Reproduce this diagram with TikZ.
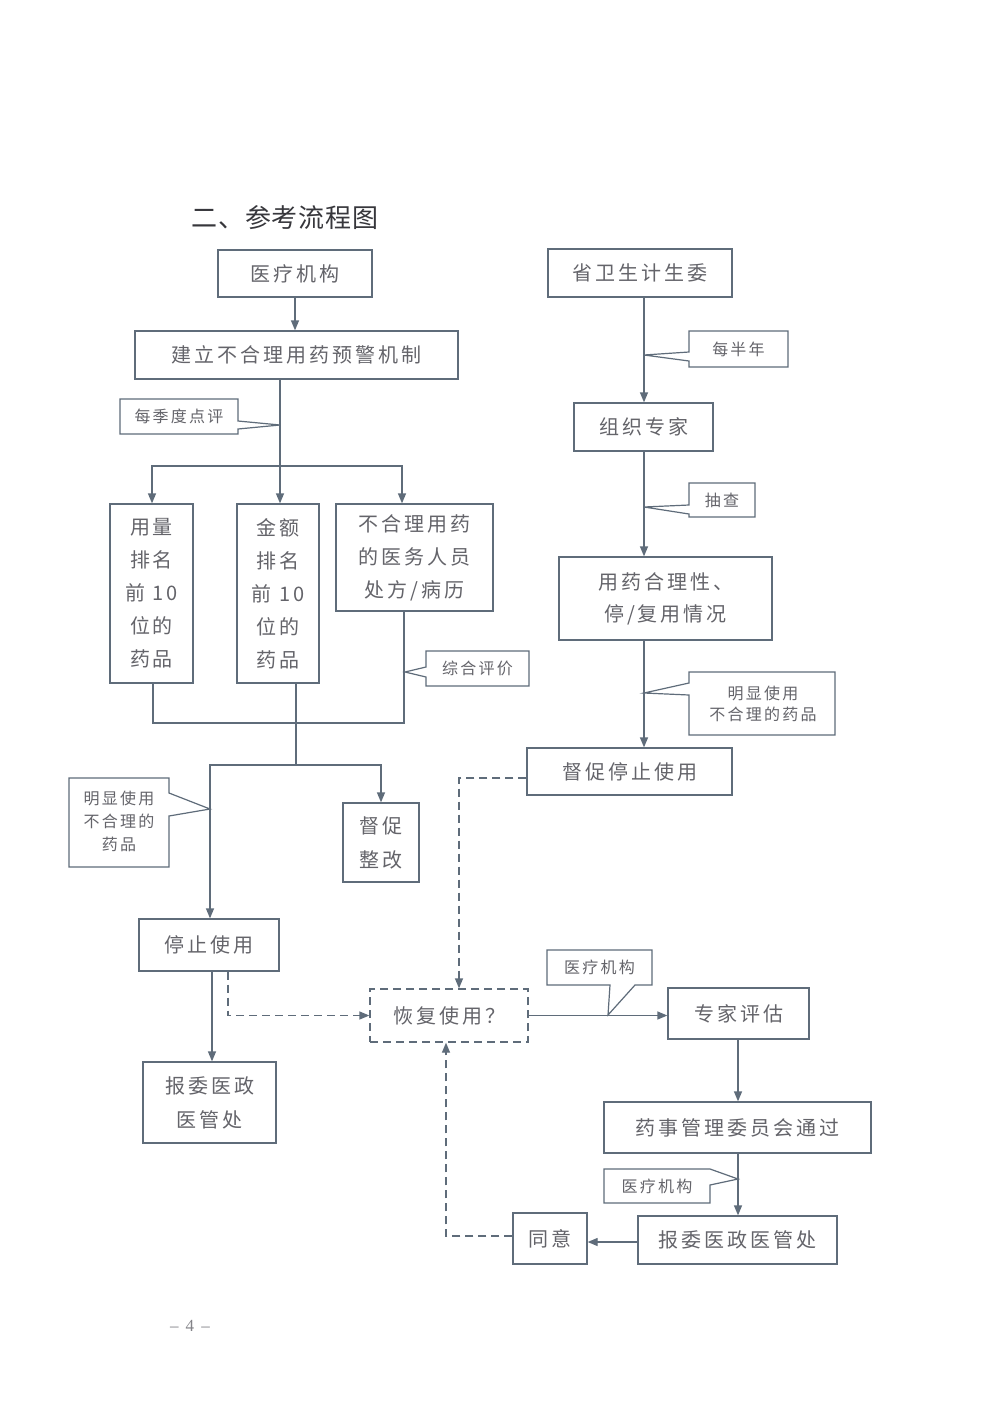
\documentclass[tikz,border=0pt]{standalone}
\usepackage{fontspec}
\setmainfont{Liberation Serif}
\newfontfamily\cjk[LetterSpace=15]{Noto Sans CJK SC}
\newfontfamily\cjks[LetterSpace=14]{Noto Sans CJK SC}
\newfontfamily\cjkt[LetterSpace=3]{Noto Sans CJK SC}
\usetikzlibrary{arrows.meta}
\definecolor{lc}{RGB}{95,108,122}
\definecolor{tc}{RGB}{100,100,106}
\definecolor{ttl}{RGB}{55,55,60}
\begin{document}
\begin{tikzpicture}[x=0.5pt,y=-0.5pt,
 box/.style={draw=lc,line width=0.65pt,inner sep=0pt,text=tc,align=center,font=\cjk\fontsize{10}{16.5}\selectfont},
 note/.style={inner sep=0pt,text=tc,align=center,font=\cjks\fontsize{8}{11.5}\selectfont},
 callout/.style={draw=lc,line width=0.6pt,line join=miter},
 link/.style={draw=lc,line width=0.65pt},
 arr/.style={link,-{Triangle[length=5pt,width=4pt]}},
 darr/.style={arr,dash pattern=on 4pt off 2.5pt},
 dbox/.style={box,dash pattern=on 4pt off 2.5pt}]
\fill[white] (0,0) rectangle (1000,1414);
\useasboundingbox (0,0) rectangle (1000,1414);

% title
\node[inner sep=0pt,text=ttl,font=\cjkt\fontsize{13}{15}\selectfont] (title) at (285,218) {二、参考流程图};

% left column
\node[box,minimum width=77pt,minimum height=23.5pt] (A) at (295,273.5) {医疗机构};
\node[box,minimum width=161.5pt,minimum height=24pt] (B) at (296.5,355) {建立不合理用药预警机制};
\node[box,minimum width=41.5pt,minimum height=89.5pt] (C1) at (151.5,593.5) {用量\\排名\\前 10\\位的\\药品};
\node[box,minimum width=41pt,minimum height=89.5pt] (C2) at (278,593.5) {金额\\排名\\前 10\\位的\\药品};
\node[box,minimum width=78.5pt,minimum height=53.5pt] (C3) at (414.5,557.5) {不合理用药\\的医务人员\\处方/病历};
\node[box,minimum width=38pt,minimum height=39.5pt,font=\cjk\fontsize{10}{17}\selectfont] (D) at (381,842.5) {督促\\整改};
\node[box,minimum width=70pt,minimum height=26pt] (E) at (209,945) {停止使用};
\node[box,minimum width=66.5pt,minimum height=40.5pt,font=\cjk\fontsize{10}{17}\selectfont] (F) at (209.5,1102.5) {报委医政\\医管处};
\node[dbox,minimum width=79pt,minimum height=26.5pt] (G) at (449,1015.5) {恢复使用？};

% right column
\node[box,minimum width=92pt,minimum height=24pt] (R1) at (640,273) {省卫生计生委};
\node[box,minimum width=69.5pt,minimum height=24pt] (R2) at (643.5,427) {组织专家};
\node[box,minimum width=106.5pt,minimum height=41.5pt,font=\cjk\fontsize{10}{16}\selectfont] (R3) at (665.5,598.5) {用药合理性、\\停/复用情况};
\node[box,minimum width=102.5pt,minimum height=23.5pt] (R4) at (629.5,771.5) {督促停止使用};
\node[box,minimum width=70.5pt,minimum height=25.5pt] (R5) at (738.5,1013.5) {专家评估};
\node[box,minimum width=133.5pt,minimum height=25.5pt] (R6) at (737.5,1127.5) {药事管理委员会通过};
\node[box,minimum width=99.5pt,minimum height=24pt] (R7) at (737.5,1240) {报委医政医管处};
\node[box,minimum width=37pt,minimum height=25.5pt] (R8) at (550,1238.5) {同意};

% callout shapes
\draw[callout] (120,399)--(238,399)--(238,421)--(280,425)--(238,429)--(238,434)--(120,434)--cycle;
\draw[callout] (426,651)--(529,651)--(529,686)--(426,686)--(426,677)--(405,672)--(426,667)--cycle;
\draw[callout] (69,778)--(169,778)--(169,793)--(210,809)--(169,816)--(169,867)--(69,867)--cycle;
\draw[callout] (547,950)--(652,950)--(652,985)--(635,985)--(608,1015)--(610,985)--(547,985)--cycle;
\draw[callout] (604,1169)--(710,1169)--(738,1179)--(710,1185)--(710,1203)--(604,1203)--cycle;
\draw[callout] (689,331)--(788,331)--(788,367)--(689,367)--(689,361)--(644,355)--(689,352)--cycle;
\draw[callout] (689,483)--(755,483)--(755,517)--(689,517)--(689,514)--(644,507)--(689,505)--cycle;
\draw[callout] (689,672)--(835,672)--(835,735)--(689,735)--(689,695)--(644,693)--(689,683)--cycle;

% callout texts
\node[note] (K1) at (179,416.5) {每季度点评};
\node[note] (K2) at (477.5,668.5) {综合评价};
\node[note] (K3) at (119,821) {明显使用\\不合理的\\药品};
\node[note] (K4) at (599.5,967.5) {医疗机构};
\node[note] (K5) at (657,1186) {医疗机构};
\node[note] (K6) at (738.5,349) {每半年};
\node[note] (K7) at (722,500) {抽查};
\node[note,font=\cjks\fontsize{8}{10.5}\selectfont] (K8) at (763,703.5) {明显使用\\不合理的药品};

% coordinates
\coordinate (vA) at (295,0);
\coordinate (J1) at (280,466);
\coordinate (JL) at (152,466);
\coordinate (JR) at (402,466);
\coordinate (m1) at (153,723);
\coordinate (m2) at (296,723);
\coordinate (m3) at (404,723);
\coordinate (m4) at (296,765);
\coordinate (h1) at (210,765);
\coordinate (h2) at (381,765);
\coordinate (vE) at (212,0);
\coordinate (d1) at (228,1016);
\coordinate (d2) at (459,778);
\coordinate (d3) at (446,1236);
\coordinate (vR) at (644,0);
\coordinate (vS) at (738,0);
\coordinate (r78) at (0,1242);

% left connectors
\draw[arr] (vA |- A.south) -- (vA |- B.north);
\draw[link] (J1 |- B.south) -- (J1);
\draw[arr] (J1) -- (JL) -- (JL |- C1.north);
\draw[arr] (J1) -- (J1 |- C2.north);
\draw[arr] (J1) -- (JR) -- (JR |- C3.north);
\draw[link] (m1 |- C1.south) -- (m1) -- (m3) -- (m3 |- C3.south);
\draw[link] (m2 |- C2.south) -- (m4);
\draw[arr] (m4) -- (h2) -- (h2 |- D.north);
\draw[arr] (m4) -- (h1) -- (h1 |- E.north);
\draw[arr] (vE |- E.south) -- (vE |- F.north);
\draw[darr] (d1 |- E.south) |- (G.west);
\draw[darr] (d2 -| R4.west) -- (d2) -- (d2 |- G.north);
\draw[darr] (d3 -| R8.west) -- (d3) -- (d3 |- G.south);
\draw[arr] (G.east) -- (G.east -| R5.west);

% right connectors
\draw[arr] (vR |- R1.south) -- (vR |- R2.north);
\draw[arr] (vR |- R2.south) -- (vR |- R3.north);
\draw[arr] (vR |- R3.south) -- (vR |- R4.north);
\draw[arr] (vS |- R5.south) -- (vS |- R6.north);
\draw[arr] (vS |- R6.south) -- (vS |- R7.north);
\draw[arr] (r78 -| R7.west) -- (r78 -| R8.east);

% page number
\node[inner sep=0pt,text=tc!80,font=\fontsize{8.5}{10}\selectfont] (pg) at (190,1326) {– \,4\, –};
\end{tikzpicture}
\end{document}
